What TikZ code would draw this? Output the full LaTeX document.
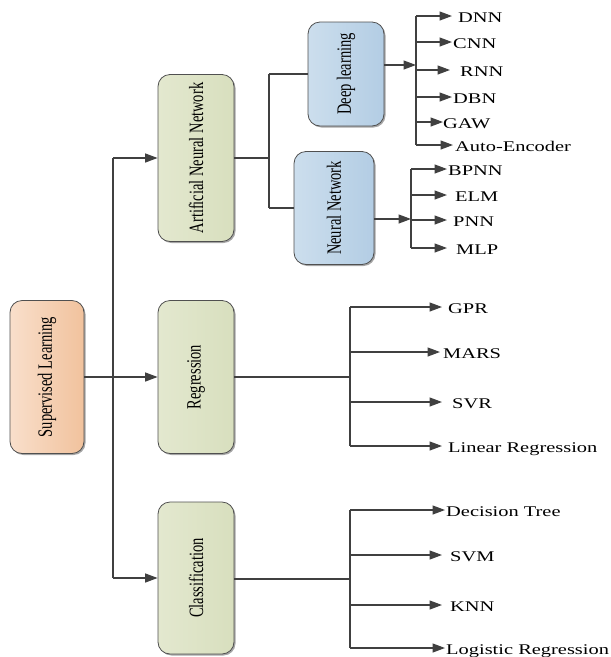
\documentclass[tikz,border=0pt]{standalone}
\usepackage{fontspec}
\setmainfont{Liberation Serif}
\usetikzlibrary{arrows.meta,shadows}

\definecolor{wire}{HTML}{404040}
\definecolor{boxedge}{HTML}{505050}
\definecolor{peachL}{HTML}{F9DFCB}
\definecolor{peachR}{HTML}{F1C29D}
\definecolor{oliveL}{HTML}{E3E8CF}
\definecolor{oliveR}{HTML}{D8DFBE}
\definecolor{skyL}{HTML}{CCDEED}
\definecolor{skyR}{HTML}{B3CDE4}

% rotated, slightly stretched label inside a box
\newcommand\boxlabel[1]{\rotatebox{90}{\scalebox{1}[1.4]{#1}}}
% widened leaf label
\newcommand\leaftext[1]{\scalebox{1.38}[1]{#1}}

\begin{document}
\begin{tikzpicture}[x=1pt,y=-1pt,
  box/.style={draw=boxedge, line width=0.8pt, rounded corners=12pt, inner sep=0pt,
    font=\fontsize{14.5}{17}\selectfont,
    drop shadow={shadow xshift=1.5pt,shadow yshift=-1.5pt,opacity=0.35,fill=black}},
  peach/.style={box, left color=peachL, right color=peachR},
  olive/.style={box, left color=oliveL, right color=oliveR},
  sky/.style={box, left color=skyL, right color=skyR},
  wire/.style={draw=wire, line width=1.3pt},
  arr/.style={wire, -{Triangle[length=12.5pt,width=9pt]}},
  leaf/.style={anchor=base west, inner sep=0pt, font=\fontsize{14.8}{17}\selectfont},
]
\useasboundingbox (0,0) rectangle (611,657);

% main boxes
\node[peach, minimum width=74pt, minimum height=153pt] (sup) at (47,377) {\boxlabel{Supervised Learning}};
\node[olive, minimum width=76pt, minimum height=167pt] (ann) at (196,158) {\boxlabel{Artificial Neural Network}};
\node[olive, minimum width=76pt, minimum height=153pt] (reg) at (196,377) {\boxlabel{Regression}};
\node[olive, minimum width=76pt, minimum height=152pt] (cls) at (196,578) {\boxlabel{Classification}};
\node[sky, minimum width=76pt, minimum height=104pt] (dl) at (346,74) {\boxlabel{Deep learning}};
\node[sky, minimum width=80pt, minimum height=113pt] (nn) at (334,208) {\boxlabel{Neural Network}};

% trunk from Supervised Learning
\coordinate (t1) at (113,158);
\coordinate (t2) at (113,377);
\coordinate (t3) at (113,578);
\draw[wire] (t1) -- (t3);
\draw[arr] (sup) -- (reg);
\draw[arr] (t1) -- (ann);
\draw[arr] (t3) -- (cls);

% split of the neural network branch
\coordinate (a0) at (269,158);
\coordinate (a1) at (269,74);
\coordinate (a2) at (269,208);
\draw[wire] (ann.east |- a0) -- (a0);
\draw[wire] (a1) -- (a2);
\draw[wire] (a1) -- (dl);
\draw[wire] (a2) -- (nn);

% deep learning methods
\coordinate (dlj) at (416,65);
\coordinate (dlbus-top) at (416,16);
\coordinate (dlbus-bot) at (416,145);
\draw[arr] (dl.east |- dlj) -- (dlj);
\draw[wire] (dlbus-top) -- (dlbus-bot);
\foreach \nm/\y/\tip/\tx/\txt in {dnn/16/452/458/DNN, cnn/42/452/453/CNN, rnn/70/450/460/RNN,
    dbn/97/452/453/DBN, gaw/122/443/443/GAW, ae/145/453/455/Auto-Encoder}{
  \coordinate (\nm-tip) at (\tip,\y);
  \node[leaf] (\nm) at (\tx,\y+6.5) {\leaftext{\txt}};
  \draw[arr] (dlbus-top |- \nm-tip) -- (\nm-tip);
}

% neural network methods
\coordinate (nnj) at (411,219);
\coordinate (nnbus-top) at (411,169);
\coordinate (nnbus-bot) at (411,248);
\draw[arr] (nn.east |- nnj) -- (nnj);
\draw[wire] (nnbus-top) -- (nnbus-bot);
\foreach \nm/\y/\tip/\tx/\txt in {bpnn/169/447/448/BPNN, elm/195/447/455/ELM,
    pnn/220/447/453/PNN, mlp/248/447/456/MLP}{
  \coordinate (\nm-tip) at (\tip,\y);
  \node[leaf] (\nm) at (\tx,\y+6.5) {\leaftext{\txt}};
  \draw[arr] (nnbus-top |- \nm-tip) -- (\nm-tip);
}

% regression methods
\coordinate (rj) at (350,377);
\coordinate (rbus-top) at (350,307);
\coordinate (rbus-bot) at (350,446);
\draw[wire] (reg.east |- rj) -- (rj);
\draw[wire] (rbus-top) -- (rbus-bot);
\foreach \nm/\y/\tip/\tx/\txt in {gpr/307/442/448/GPR, mars/352/440/443/MARS,
    svr/402/442/452/SVR, lin/446/442/448/Linear Regression}{
  \coordinate (\nm-tip) at (\tip,\y);
  \node[leaf] (\nm) at (\tx,\y+6.5) {\leaftext{\txt}};
  \draw[arr] (rbus-top |- \nm-tip) -- (\nm-tip);
}

% classification methods
\coordinate (cj) at (350,579);
\coordinate (cbus-top) at (350,510);
\coordinate (cbus-bot) at (350,648);
\draw[wire] (cls.east |- cj) -- (cj);
\draw[wire] (cbus-top) -- (cbus-bot);
\foreach \nm/\y/\tip/\tx/\txt in {dt/510/445/446/Decision Tree, svm/555/442/450/SVM,
    knn/605/442/450/KNN, logr/648/445/446/Logistic Regression}{
  \coordinate (\nm-tip) at (\tip,\y);
  \node[leaf] (\nm) at (\tx,\y+6.5) {\leaftext{\txt}};
  \draw[arr] (cbus-top |- \nm-tip) -- (\nm-tip);
}
\end{tikzpicture}
\end{document}
